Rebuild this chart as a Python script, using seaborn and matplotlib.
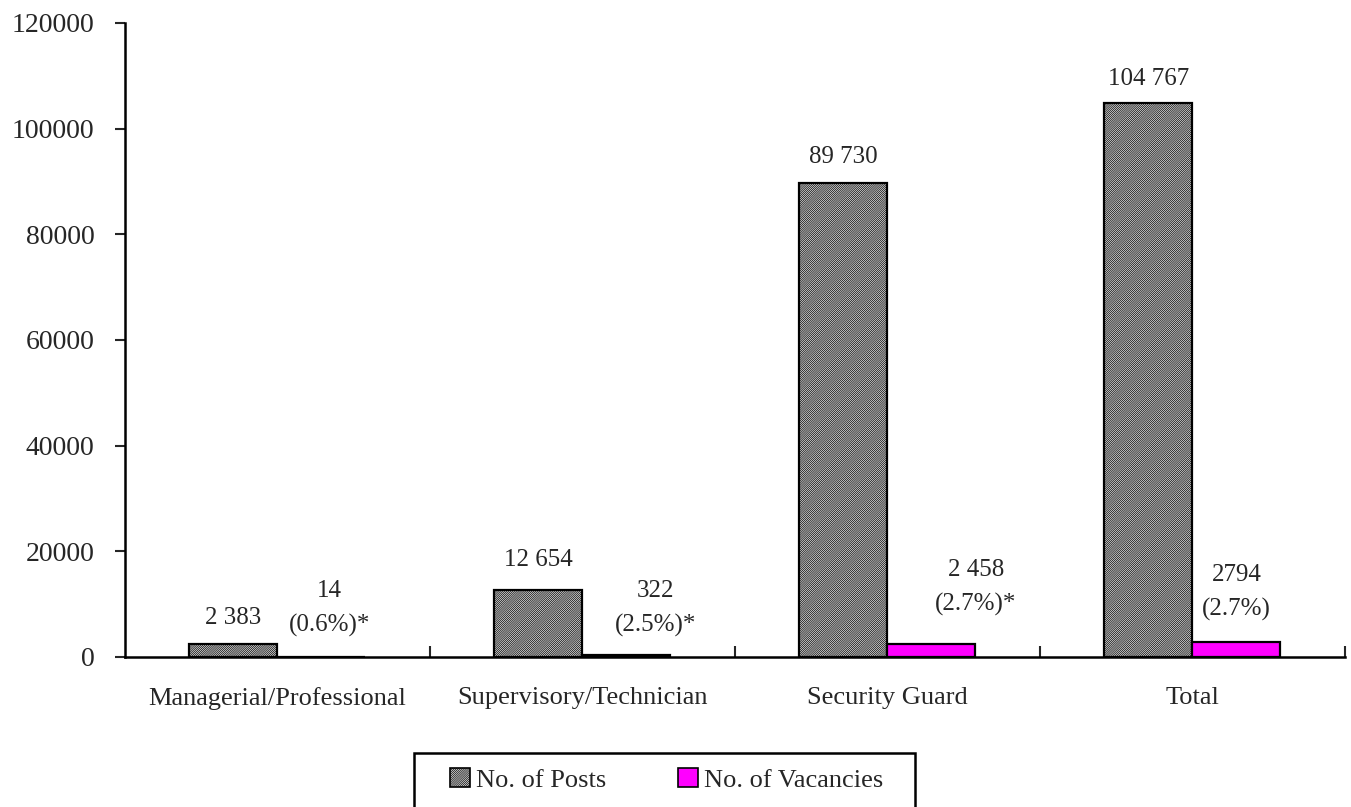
import matplotlib
matplotlib.use("Agg")
import matplotlib.pyplot as plt
import matplotlib.patches as mpatches
import seaborn as sns
import pandas as pd

categories = ["Managerial/Professional", "Supervisory/Technician", "Security Guard", "Total"]
posts = [2383, 12654, 89730, 104767]
vacancies = [14, 322, 2458, 2794]
posts_labels = ["2 383", "12 654", "89 730", "104 767"]
vacancy_labels = ["14\n(0.6%)*", "322\n(2.5%)*", "2 458\n(2.7%)*", "2794\n(2.7%)"]
series_names = ["No. of Posts", "No. of Vacancies"]
y_ticks = [0, 20000, 40000, 60000, 80000, 100000, 120000]

POSTS_FACE = "#e6e6e6"
VAC_FACE = "#ff00ff"
HATCH = "/" * 16

sns.set_theme(style="white")
plt.rcParams["font.family"] = ["Liberation Serif", "DejaVu Serif"]
plt.rcParams["hatch.linewidth"] = 0.5
plt.rcParams["hatch.color"] = "#6e6e6e"

df = pd.DataFrame({
    "category": categories * 2,
    "series": [series_names[0]] * 4 + [series_names[1]] * 4,
    "value": posts + vacancies,
})

fig = plt.figure(figsize=(13.51, 8.07), dpi=100)
ax = fig.add_axes([0.0925, 0.186, 0.903, 0.7855])

sns.barplot(data=df, x="category", y="value", hue="series", order=categories,
            hue_order=series_names, palette=[POSTS_FACE, VAC_FACE],
            width=0.577, edgecolor="black", linewidth=1.6, saturation=1,
            legend=False, ax=ax, errorbar=None)

# Hatch the posts bars (first four patches belong to the first hue level)
bars = [p for p in ax.patches if isinstance(p, mpatches.Rectangle)]
for p in bars[:4]:
    p.set_hatch(HATCH)

ax.set_xlim(-0.5, 3.5)
ax.set_ylim(0, 120000)
ax.set_yticks(y_ticks)
ax.set_yticklabels([str(t) for t in y_ticks], fontsize=20)
ax.set_xlabel("")
ax.set_ylabel("")
ax.tick_params(axis="y", direction="out", length=7, width=1.5, left=True, pad=15)
ax.tick_params(axis="x", which="major", length=0, pad=22, labelsize=19)
ax.set_xticks([0.5, 1.5, 2.5, 3.5], minor=True)
ax.tick_params(axis="x", which="minor", direction="in", length=8, width=1.5, bottom=True)

for side in ["top", "right"]:
    ax.spines[side].set_visible(False)
for side in ["left", "bottom"]:
    ax.spines[side].set_color("black")
    ax.spines[side].set_linewidth(1.8)
ax.grid(False)

# Value labels
posts_bars = bars[:4]
vac_bars = bars[4:8]
posts_offsets = [11, 14, 11, 10]
for p, lab, off in zip(posts_bars, posts_labels, posts_offsets):
    ax.annotate(lab, (p.get_x() + p.get_width() / 2, p.get_height()),
                xytext=(0, off), textcoords="offset points",
                ha="center", va="bottom", fontsize=18)

vac_offsets = [(6, 14), (21, 13), (32, 20), (0, 15)]
for p, lab, (dx, dy) in zip(vac_bars, vacancy_labels, vac_offsets):
    ax.annotate(lab, (p.get_x() + p.get_width() / 2, p.get_height()),
                xytext=(dx, dy), textcoords="offset points",
                ha="center", va="bottom", fontsize=18, linespacing=1.7)

# Legend: box drawn in figure pixels, entries placed inside it
W, H = 1351, 807
fig.patches.append(mpatches.Rectangle((414 / W, -0.01), (915 - 414) / W, 0.01 + (807 - 753) / H,
                                      transform=fig.transFigure, facecolor="white",
                                      edgecolor="black", linewidth=1.8, zorder=5))
handles = [
    mpatches.Patch(facecolor=POSTS_FACE, edgecolor="black", hatch=HATCH, linewidth=1.2),
    mpatches.Patch(facecolor=VAC_FACE, edgecolor="black", linewidth=1.2),
]
leg = fig.legend(handles, series_names, loc="center left",
                 bbox_to_anchor=(450 / W, 1 - 780 / H), ncol=2,
                 frameon=False, fontsize=19,
                 handlelength=0.75, handleheight=0.75, handletextpad=0.25,
                 columnspacing=2.7, borderpad=0, borderaxespad=0)
leg.set_zorder(6)

fig.savefig("out.png", dpi=100)
